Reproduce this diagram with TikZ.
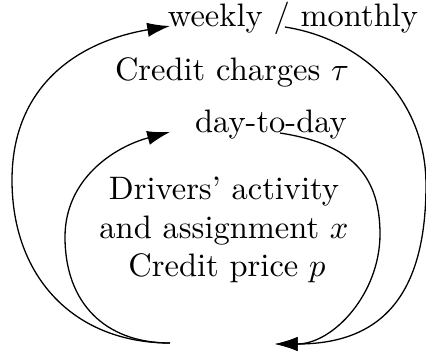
\documentclass[tikz,border=0pt]{standalone}
\usetikzlibrary{arrows.meta}
\begin{document}
\begin{tikzpicture}[x=0.3077pt,y=-0.3077pt,
  lbl/.style={inner sep=0pt,anchor=base},
  loop/.style={-{Latex[length=7pt,width=4.4pt]},line width=0.4pt}]
\useasboundingbox (0,0) rectangle (426,351);
\node[lbl] (wm) at (293,26) {weekly / monthly};
\node[lbl] (cc) at (232,80) {Credit charges $\tau$};
\node[lbl] (dd) at (271,132) {day-to-day};
\node[lbl] (da) at (224,199) {Drivers' activity};
\node[lbl] (as) at (224,238) {and assignment $x$};
\node[lbl] (cp) at (227,276) {Credit price $p$};
\coordinate (s) at (170,343);
\coordinate (e) at (275,344);
\coordinate (wt) at (170,26);
\coordinate (wr) at (285,27);
\coordinate (dt) at (170,132);
\coordinate (dr) at (280,133);
\coordinate (ol) at (12,180);
\coordinate (il) at (65,237);
\coordinate (or) at (426,185);
\coordinate (ir) at (380,234);
\draw[loop] (s) .. controls (75,343) and (12,278) .. (ol)
  .. controls (12,88) and (75,42) .. (wt);
\draw[loop] (wr) .. controls (362,39) and (426,98) .. (or)
  .. controls (426,296) and (381,344) .. (e);
\draw[loop] (s) .. controls (105,343) and (65,303) .. (il)
  .. controls (65,179) and (114,147) .. (dt);
\draw[loop] (dr) .. controls (345,143) and (380,170) .. (ir)
  .. controls (380,294) and (333,344) .. (e);
\end{tikzpicture}
\end{document}
